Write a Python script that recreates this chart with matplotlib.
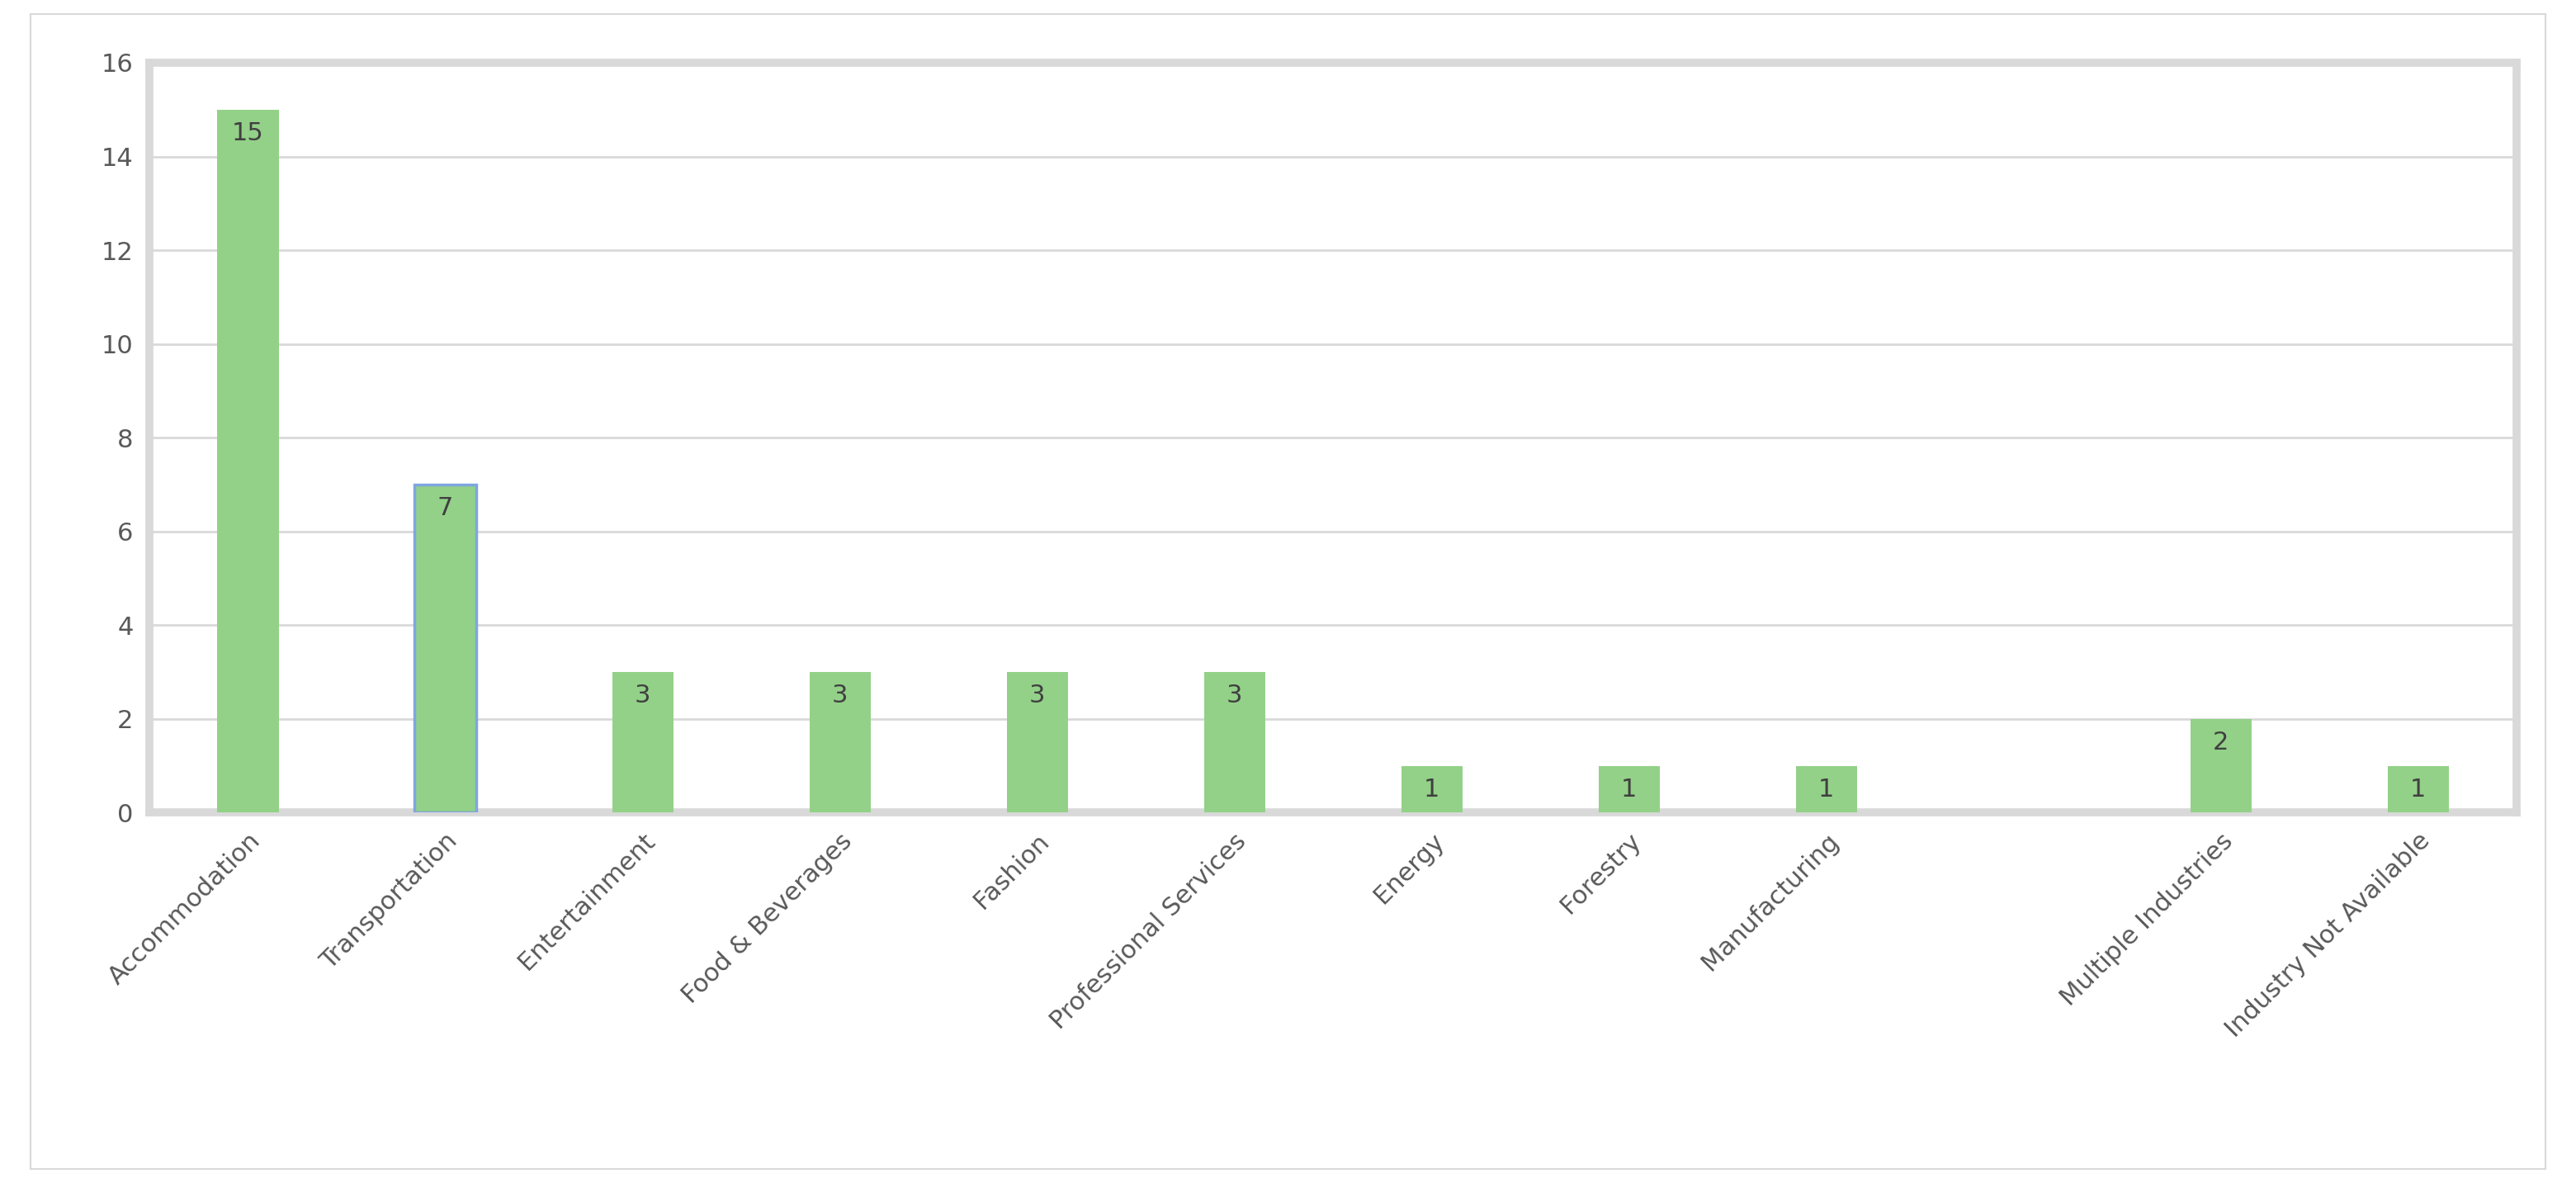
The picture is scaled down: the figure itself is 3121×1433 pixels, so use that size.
import matplotlib.pyplot as plt
from matplotlib.patches import Rectangle

categories = ['Accommodation', 'Transportation', 'Entertainment', 'Food & Beverages',
              'Fashion', 'Professional Services', 'Energy', 'Forestry', 'Manufacturing',
              '', 'Multiple Industries', 'Industry Not Available']
values = [15, 7, 3, 3, 3, 3, 1, 1, 1, 0, 2, 1]

fig = plt.figure(figsize=(31.21, 14.33), dpi=100)
fig.patches.append(Rectangle((0.012, 0.012), 0.976, 0.976, transform=fig.transFigure,
                             fill=False, edgecolor='#d9d9d9', linewidth=1.5))
ax = fig.add_axes([0.058, 0.313, 0.919, 0.634])

x = list(range(len(categories)))
green = '#93d188'
edges = ['none'] * len(values)
edges[1] = '#7fa6e0'
bars = ax.bar(x, values, width=0.31, color=green, edgecolor=edges, linewidth=2.5, zorder=3)

for xi, v in zip(x, values):
    if v > 0:
        ax.text(xi, v - 0.5, str(v), ha='center', va='center', fontsize=22,
                color='#404040', zorder=4)

ax.set_ylim(0, 16)
ax.set_xlim(-0.5, len(categories) - 0.5)
ax.set_yticks(range(0, 17, 2))
ax.grid(axis='y', color='#d9d9d9', linewidth=2, zorder=0)
for s in ax.spines.values():
    s.set_color('#d9d9d9')
    s.set_linewidth(7)
ax.tick_params(axis='both', length=0, labelsize=22, labelcolor='#595959', pad=14)
ax.set_xticks(x)
ax.set_xticklabels(categories, rotation=45, ha='right', rotation_mode='anchor')

plt.savefig('out.png', dpi=100)
